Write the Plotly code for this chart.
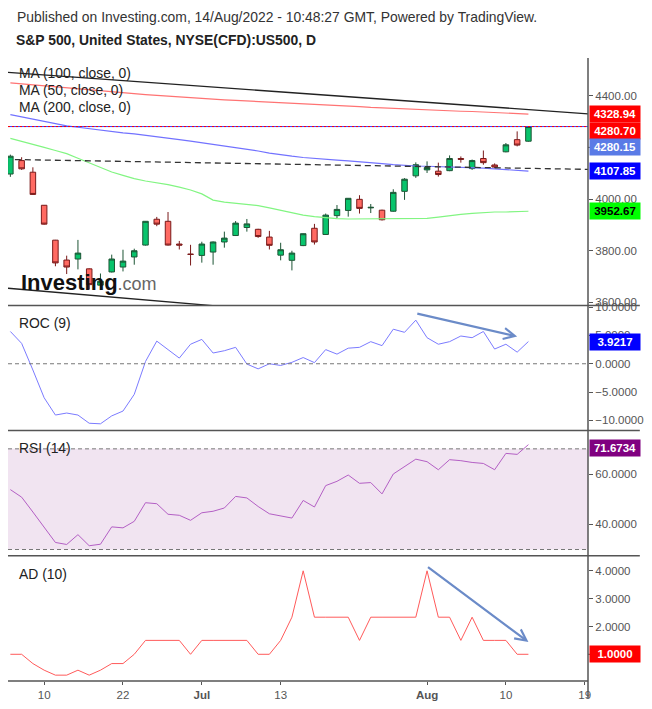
import plotly.graph_objects as go
from plotly.subplots import make_subplots

# ---------------- data ----------------
dates = ["2022-06-07", "2022-06-08", "2022-06-09", "2022-06-10", "2022-06-13", "2022-06-14",
         "2022-06-15", "2022-06-16", "2022-06-17", "2022-06-21", "2022-06-22", "2022-06-23",
         "2022-06-24", "2022-06-27", "2022-06-28", "2022-06-29", "2022-06-30", "2022-07-01",
         "2022-07-05", "2022-07-06", "2022-07-07", "2022-07-08", "2022-07-11", "2022-07-12",
         "2022-07-13", "2022-07-14", "2022-07-15", "2022-07-18", "2022-07-19", "2022-07-20",
         "2022-07-21", "2022-07-22", "2022-07-25", "2022-07-26", "2022-07-27", "2022-07-28",
         "2022-07-29", "2022-08-01", "2022-08-02", "2022-08-03", "2022-08-04", "2022-08-05",
         "2022-08-08", "2022-08-09", "2022-08-10", "2022-08-11", "2022-08-12"]
future_dates = ["2022-08-15", "2022-08-16", "2022-08-17", "2022-08-18", "2022-08-19"]

open_ = [4097, 4149, 4104, 3976, 3841, 3764, 3768, 3730, 3667, 3718, 3737, 3776,
         3822, 3922, 3914, 3826, 3787, 3782, 3795, 3834, 3859, 3890, 3883, 3853,
         3783, 3763, 3820, 3887, 3863, 3936, 3956, 3999, 3966, 3957, 3953, 4030,
         4090, 4113, 4108, 4110, 4157, 4118, 4157, 4132, 4183, 4230, 4224]
high = [4172, 4162, 4123, 3977, 3842, 3781, 3842, 3732, 3712, 3785, 3804, 3808,
        3915, 3931, 3950, 3838, 3823, 3835, 3836, 3874, 3915, 3923, 3885, 3877,
        3831, 3800, 3867, 3904, 3944, 3977, 4004, 4015, 3981, 3959, 4038, 4081,
        4142, 4146, 4141, 4169, 4165, 4153, 4188, 4138, 4217, 4262, 4282]
low = [4086, 4113, 4017, 3901, 3740, 3710, 3728, 3650, 3648, 3716, 3720, 3746,
       3820, 3895, 3820, 3805, 3743, 3754, 3746, 3812, 3857, 3874, 3850, 3805,
       3763, 3724, 3818, 3824, 3861, 3926, 3932, 3944, 3946, 3917, 3951, 3997,
       4082, 4101, 4087, 4108, 4141, 4113, 4133, 4119, 4181, 4204, 4222]
close = [4166, 4117, 4018, 3903, 3753, 3737, 3791, 3669, 3682, 3768, 3760, 3800,
         3914, 3903, 3822, 3822, 3786, 3826, 3834, 3849, 3907, 3904, 3855, 3821,
         3804, 3791, 3866, 3834, 3938, 3960, 4003, 3964, 3968, 3920, 4026, 4077,
         4133, 4122, 4095, 4157, 4154, 4149, 4141, 4124, 4210, 4209, 4280.7]

ma200 = [4450, 4446, 4442, 4438, 4434, 4430, 4426, 4422, 4418, 4414, 4410, 4407,
         4404, 4401, 4398, 4395, 4392, 4388, 4386, 4384, 4382, 4380, 4378, 4376,
         4374, 4372, 4370, 4367, 4365, 4362, 4360, 4358, 4355, 4353, 4350, 4349,
         4347, 4346, 4344, 4342, 4340, 4339, 4337, 4335, 4333, 4331, 4329]
ma100 = [4327, 4318, 4308, 4298, 4290, 4283, 4278, 4272, 4266, 4260, 4256, 4252,
         4247, 4242, 4236, 4230, 4224, 4218, 4212, 4205, 4199, 4193, 4186, 4178,
         4171, 4166, 4161, 4157, 4154, 4151, 4148, 4145, 4141, 4137, 4133, 4130,
         4128, 4127, 4126, 4125, 4124, 4122, 4120, 4117, 4114, 4111, 4108]
ma50 = [4235, 4224, 4212, 4200, 4188, 4176, 4158, 4140, 4123, 4105, 4092, 4079,
        4070, 4063, 4056, 4046, 4035, 4020, 3996, 3988, 3983, 3979, 3975, 3966,
        3956, 3947, 3938, 3932, 3927, 3924, 3923, 3923, 3923, 3923, 3923, 3923,
        3923, 3925, 3930, 3936, 3941, 3945, 3948, 3950, 3950, 3952, 3953]

roc = [5.7, 3.6, -1.1, -6.0, -9.05, -8.7, -9.05, -10.5, -10.6, -9.2, -8.35, -5.4,
       0.4, 4.0, 2.5, 1.0, 3.45, 4.3, 1.9, 2.3, 2.9, -0.05, -0.9, 0.0,
       -0.3, 0.25, 1.1, 0.2, 2.5, 1.7, 2.75, 2.9, 3.9, 3.2, 6.1, 5.55,
       7.7, 4.6, 3.45, 3.9, 4.9, 4.6, 5.7, 2.6, 3.45, 2.05, 3.9217]
rsi = [53.8, 50.8, 44.9, 39.0, 32.8, 32.0, 35.9, 31.5, 32.1, 39.0, 38.6, 41.2,
       48.6, 48.2, 44.0, 43.6, 41.6, 44.6, 45.2, 46.5, 51.1, 50.5, 47.1, 44.2,
       43.2, 42.5, 49.5, 46.9, 55.4, 57.1, 59.6, 56.3, 56.6, 52.1, 60.0, 62.9,
       65.9, 64.9, 61.7, 65.7, 65.3, 64.6, 64.2, 61.7, 68.2, 67.8, 71.6734]
ad = [1.0, 1.0, 0.6667, 0.4286, 0.25, 0.25, 0.4286, 0.25, 0.4286, 0.6667, 0.6667, 1.0,
      1.5, 1.5, 1.5, 1.5, 1.0, 1.5, 1.5, 1.5, 1.5, 1.5, 1.0, 1.0,
      1.5, 2.3333, 4.0, 2.3333, 2.3333, 2.3333, 2.3333, 1.5, 2.3333, 2.3333, 2.3333, 2.3333,
      2.3333, 4.0, 2.3333, 2.3333, 1.5, 2.3333, 1.5, 1.5, 1.5, 1.0, 1.0]

tick_dates = ["2022-06-10", "2022-06-22", "2022-07-01", "2022-07-13", "2022-08-01", "2022-08-10", "2022-08-19"]
tick_text = ["10", "22", "<b>Jul</b>", "13", "<b>Aug</b>", "10", "19"]

price_ticks = [3600, 3800, 4000, 4400]
roc_ticks = [-10, -5, 0, 5, 10]
rsi_ticks = [40, 60]
ad_ticks = [2, 3, 4]

badges_price = [("4328.94", 4328.94, "#ff0000", "white", 0),
                ("4280.70", 4280.70, "#ff0000", "white", -4),
                ("4280.15", 4280.15, "#5a7be6", "white", -20),
                ("4107.85", 4107.85, "#0000ff", "white", 0),
                ("3952.67", 3952.67, "#00ff00", "black", 0)]

# ---------------- figure ----------------
FONT = "Liberation Sans, Arial, sans-serif"
W, H = 652, 709
L, R, T, B = 8, 62, 58, 24
PW, PH = W - L - R, H - T - B


def px(xp):
    return (xp - L) / PW


def py(yp):
    return (H - B - yp) / PH


fig = make_subplots(rows=4, cols=1, shared_xaxes=True, vertical_spacing=0)

fig.add_trace(go.Candlestick(
    x=dates, open=open_, high=high, low=low, close=close,
    increasing=dict(fillcolor="#08c46c", line=dict(color="#1d5535", width=1)),
    decreasing=dict(fillcolor="#ff6a62", line=dict(color="#7a1a1a", width=1)),
    whiskerwidth=0, showlegend=False, hoverinfo="skip"), row=1, col=1)

fig.add_trace(go.Scatter(x=dates, y=ma200, mode="lines", line=dict(color="#ff7373", width=1.2),
                         showlegend=False), row=1, col=1)
fig.add_trace(go.Scatter(x=dates, y=ma100, mode="lines", line=dict(color="#7272ff", width=1.2),
                         showlegend=False), row=1, col=1)
fig.add_trace(go.Scatter(x=dates, y=ma50, mode="lines", line=dict(color="#82f582", width=1.2),
                         showlegend=False), row=1, col=1)

fig.add_trace(go.Scatter(x=dates, y=roc, mode="lines", line=dict(color="#7b7bff", width=1),
                         showlegend=False), row=2, col=1)
fig.add_trace(go.Scatter(x=dates, y=rsi, mode="lines", line=dict(color="#b35fc4", width=1),
                         showlegend=False), row=3, col=1)
fig.add_trace(go.Scatter(x=dates, y=ad, mode="lines", line=dict(color="#ff5a5a", width=1),
                         showlegend=False), row=4, col=1)

xr = [-0.21, 51.29]
xcommon = dict(type="category", categoryorder="array", categoryarray=dates + future_dates,
               range=xr, showgrid=False, zeroline=False, showline=False,
               rangeslider=dict(visible=False))
for i in range(1, 5):
    fig.update_xaxes(**xcommon, row=i, col=1)
fig.update_xaxes(tickmode="array", tickvals=tick_dates, ticktext=tick_text,
                 ticks="outside", ticklen=3, tickcolor="#555",
                 tickfont=dict(family=FONT, size=11.5, color="#555"), row=4, col=1)

ycommon = dict(side="right", showgrid=False, zeroline=False, showline=False,
               ticks="outside", ticklen=4, tickcolor="#555",
               tickfont=dict(family=FONT, size=11.5, color="#555"))
fig.update_yaxes(**ycommon, range=[3588.5, 4546], tickvals=price_ticks,
                 tickformat=".2f", domain=[py(307), 1], row=1, col=1)
fig.update_yaxes(**ycommon, range=[-11.8, 10.3], tickvals=roc_ticks,
                 tickformat=".4f", domain=[py(433), py(307)], row=2, col=1)
fig.update_yaxes(**ycommon, range=[27.5, 77.25], tickvals=rsi_ticks,
                 tickformat=".4f", domain=[py(559), py(433)], row=3, col=1)
fig.update_yaxes(**ycommon, range=[0.04, 4.54], tickvals=ad_ticks,
                 tickformat=".4f", domain=[0, py(559)], row=4, col=1)

shapes = []
# RSI band and levels
shapes.append(dict(type="rect", xref="paper", yref="y3", x0=0, x1=1, y0=30, y1=70,
                   fillcolor="#f1e4f1", line=dict(width=0), layer="below"))
for lv in (70, 30):
    shapes.append(dict(type="line", xref="paper", yref="y3", x0=0, x1=1, y0=lv, y1=lv,
                       line=dict(color="#777", width=1, dash="4px,3px")))
shapes.append(dict(type="line", xref="paper", yref="y2", x0=0, x1=1, y0=0, y1=0,
                   line=dict(color="#777", width=1, dash="4px,3px")))
# price trend lines
shapes.append(dict(type="line", xref="x", yref="y", x0=-0.21, y0=4490, x1=51.29, y1=4330,
                   line=dict(color="#222", width=1.3)))
shapes.append(dict(type="line", xref="x", yref="y", x0=-0.21, y0=3655, x1=20, y1=3580,
                   line=dict(color="#222", width=1.3)))
shapes.append(dict(type="line", xref="x", yref="y", x0=0.4, y0=4153, x1=51.29, y1=4115,
                   line=dict(color="#333", width=1.3, dash="6px,4px")))
# last price line
shapes.append(dict(type="line", xref="x", yref="y", x0=-0.21, y0=close[-1], x1=51.29, y1=close[-1],
                   line=dict(color="#3a3aff", width=1)))
shapes.append(dict(type="line", xref="x", yref="y", x0=-0.21, y0=close[-1], x1=51.29, y1=close[-1],
                   line=dict(color="#ff0000", width=1, dash="2px,2px")))
# panel separators & axis lines
for yp in (307, 433, 559):
    shapes.append(dict(type="line", xref="paper", yref="paper", x0=0, x1=px(642), y0=py(yp), y1=py(yp),
                       line=dict(color="#555", width=1.5)))
shapes.append(dict(type="line", xref="paper", yref="paper", x0=0, x1=1, y0=0, y1=0,
                   line=dict(color="#555", width=1.5)))
shapes.append(dict(type="line", xref="paper", yref="paper", x0=1, x1=1, y0=py(702), y1=1,
                   line=dict(color="#555", width=1.5)))
# hidden tick marks behind badges
for yv in (4200,):
    shapes.append(dict(type="line", xref="paper", yref="y", x0=1, x1=px(594), y0=yv, y1=yv,
                       line=dict(color="#555", width=1)))
shapes.append(dict(type="line", xref="paper", yref="y4", x0=1, x1=px(594), y0=1, y1=1,
                   line=dict(color="#555", width=1)))

ann = []
ann.append(dict(xref="paper", yref="paper", x=px(15), y=py(17), xanchor="left", yanchor="middle",
                text="Published on Investing.com, 14/Aug/2022 - 10:48:27 GMT, Powered by TradingView.",
                showarrow=False, font=dict(family=FONT, size=13.9, color="#333")))
ann.append(dict(xref="paper", yref="paper", x=px(14), y=py(40), xanchor="left", yanchor="middle",
                text="<b>S&P 500, United States, NYSE(CFD):US500, D</b>",
                showarrow=False, font=dict(family=FONT, size=13.9, color="#222")))
for txt, yp in (("MA (100, close, 0)", 73), ("MA (50, close, 0)", 90.5), ("MA (200, close, 0)", 107.5),
                ("ROC (9)", 325), ("RSI (14)", 451), ("AD (10)", 577)):
    ann.append(dict(xref="paper", yref="paper", x=px(17), y=py(yp), xanchor="left", yanchor="middle",
                    text=txt, showarrow=False, font=dict(family=FONT, size=13.9, color="#222")))
# logo
ann.append(dict(xref="paper", yref="paper", x=px(19), y=py(284), xanchor="left", yanchor="middle",
                text="<b>Investing</b><span style='font-size:18px;color:#666;font-weight:normal'>.com</span>",
                showarrow=False, font=dict(family=FONT, size=22, color="#111")))


def badge(text, yref, yval, bg, fg, yshift=0):
    return dict(xref="paper", yref=yref, x=px(591), y=yval, xanchor="left", yanchor="middle",
                yshift=yshift, text="<b>%s</b>" % text, showarrow=False, bgcolor=bg,
                width=48, height=14, borderpad=1, align="center",
                font=dict(family=FONT, size=11.5, color=fg))


for t, v, bg, fg, sh in badges_price:
    ann.append(badge(t, "y", v, bg, fg, sh))
ann.append(badge("%.4f" % roc[-1], "y2", roc[-1], "#0000ff", "white"))
ann.append(badge("%.4f" % rsi[-1], "y3", rsi[-1], "#800080", "white", -3))
ann.append(badge("%.4f" % ad[-1], "y4", ad[-1], "#ff0000", "white"))

# arrows
ann.append(dict(xref="x2", yref="y2", axref="x2", ayref="y2", x=45.0, y=4.8, ax=36.0, ay=8.9,
                text="", showarrow=True, arrowhead=5, arrowsize=1, arrowwidth=2.2,
                arrowcolor="#6b8bc8", standoff=0))
ann.append(dict(xref="x4", yref="y4", axref="x4", ayref="y4", x=46.0, y=1.44, ax=36.95, ay=4.17,
                text="", showarrow=True, arrowhead=5, arrowsize=1, arrowwidth=2.2,
                arrowcolor="#6b8bc8", standoff=0))

fig.update_layout(width=W, height=H, margin=dict(l=L, r=R, t=T, b=B),
                  paper_bgcolor="white", plot_bgcolor="white",
                  shapes=shapes, annotations=ann, showlegend=False,
                  font=dict(family=FONT))

fig.write_html("out.html", config={"displayModeBar": False},
               post_script="document.body.style.margin='0';document.body.style.overflow='hidden';")
